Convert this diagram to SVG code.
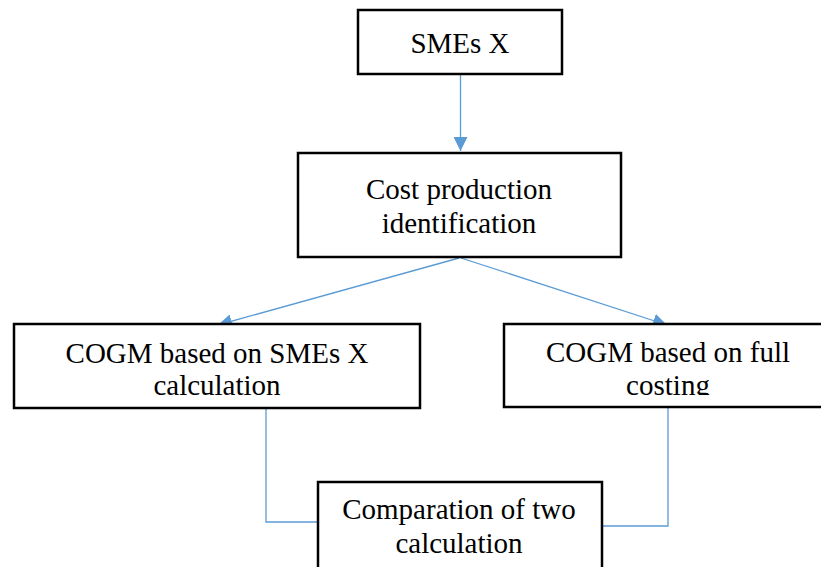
<svg xmlns="http://www.w3.org/2000/svg" width="821" height="567" viewBox="0 0 821 567">
<style>
.box{fill:#fff;stroke:#000;stroke-width:2.5}
.t{font-family:"Liberation Serif","Times New Roman",serif;font-size:29px;fill:#000;text-anchor:middle}
.c{fill:none;stroke:#5B9BD5;stroke-width:1.3}
</style>
<defs>
<marker id="ah" viewBox="0 0 10 10" refX="10" refY="5" markerWidth="14" markerHeight="14" markerUnits="userSpaceOnUse" orient="auto">
<path d="M0,0 L10,5 L0,10 z" fill="#5B9BD5"/>
</marker>
<clipPath id="clipR"><rect x="504" y="324" width="320" height="71"/></clipPath>
</defs>
<g id="connectors">
<line class="c" x1="460.5" y1="74" x2="460.5" y2="151" marker-end="url(#ah)"/>
<line class="c" x1="459" y1="258" x2="218" y2="325" marker-end="url(#ah)"/>
<line class="c" x1="461" y1="258" x2="667" y2="325" marker-end="url(#ah)"/>
<polyline class="c" points="238,408 266,408 266,522 318,522"/>
<polyline class="c" points="668,407 668,526 602,526"/>
</g>
<g id="smes">
<rect class="box" x="358" y="10" width="204" height="64"/>
<text class="t" x="460" y="53">SMEs X</text>
</g>
<g id="cost">
<rect class="box" x="298" y="153" width="323" height="104"/>
<text class="t" x="459" y="199">Cost production</text>
<text class="t" x="459" y="233">identification</text>
</g>
<g id="cogm-smes">
<rect class="box" x="14" y="324" width="406" height="84"/>
<text class="t" x="217" y="363">COGM based on SMEs X</text>
<text class="t" x="217" y="395">calculation</text>
</g>
<g id="cogm-full">
<rect class="box" x="504" y="324" width="320" height="83"/>
<g clip-path="url(#clipR)">
<text class="t" x="668" y="362">COGM based on full</text>
<text class="t" x="668" y="395">costing</text>
</g>
</g>
<g id="compare">
<rect class="box" x="318" y="482" width="284" height="100"/>
<text class="t" x="459" y="519">Comparation of two</text>
<text class="t" x="459" y="553">calculation</text>
</g>
</svg>
